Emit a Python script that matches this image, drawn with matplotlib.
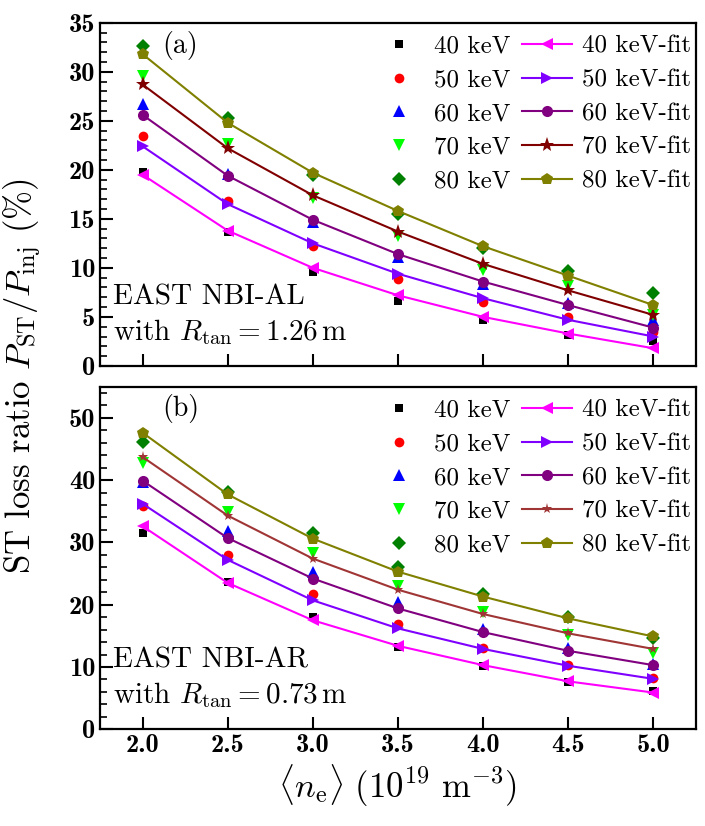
import matplotlib
matplotlib.use("Agg")
import matplotlib.pyplot as plt
from matplotlib.ticker import MultipleLocator

plt.rcParams['font.family'] = 'serif'
plt.rcParams['font.serif'] = ['cmr10', 'DejaVu Serif']
plt.rcParams['mathtext.fontset'] = 'cm'
plt.rcParams['axes.unicode_minus'] = False

# electron density (10^19 m^-3)
ne = [2.0, 2.5, 3.0, 3.5, 4.0, 4.5, 5.0]
energies = ['40', '50', '60', '70', '80']

# (a) EAST NBI-AL, simulated ST loss ratio (%)
a40 = [19.8, 13.7, 9.6, 6.6, 4.7, 3.2, 2.5]
a50 = [23.4, 16.8, 12.2, 8.9, 6.5, 5.0, 3.5]
a60 = [26.7, 19.6, 14.7, 11.1, 8.4, 6.4, 4.7]
a70 = [29.6, 22.6, 17.1, 13.2, 9.8, 8.1, 5.2]
a80 = [32.6, 25.3, 19.5, 15.5, 12.0, 9.7, 7.4]
# (a) fits
a40f = [19.5, 13.8, 10.0, 7.2, 5.0, 3.3, 1.8]
a50f = [22.4, 16.5, 12.5, 9.4, 6.9, 4.7, 3.0]
a60f = [25.6, 19.4, 14.9, 11.4, 8.6, 6.2, 3.9]
a70f = [28.7, 22.2, 17.4, 13.7, 10.4, 7.7, 5.2]
a80f = [31.8, 24.8, 19.7, 15.8, 12.2, 9.2, 6.2]

# (b) EAST NBI-AR
b40 = [31.5, 23.7, 18.0, 13.2, 10.2, 7.6, 6.1]
b50 = [35.8, 27.9, 21.7, 16.9, 13.0, 10.3, 8.2]
b60 = [39.7, 31.8, 25.3, 20.4, 16.1, 13.0, 10.5]
b70 = [42.7, 34.8, 28.3, 23.0, 18.9, 15.2, 12.2]
b80 = [46.1, 38.1, 31.5, 26.0, 21.7, 18.0, 14.6]
# (b) fits
b40f = [32.6, 23.5, 17.5, 13.4, 10.3, 7.7, 5.9]
b50f = [36.2, 27.2, 20.7, 16.2, 12.9, 10.2, 8.1]
b60f = [39.9, 30.7, 24.2, 19.4, 15.6, 12.6, 10.3]
b70f = [43.7, 34.3, 27.4, 22.4, 18.5, 15.4, 12.9]
b80f = [47.6, 37.7, 30.6, 25.3, 21.3, 17.8, 14.9]

data_style = [('s', 'black', 6), ('o', 'red', 7), ('^', 'blue', 8),
              ('v', '#00ff00', 8), ('D', 'green', 7)]
fit_style = [('<', '#ff00ff', 9), ('>', '#8000ff', 9), ('o', 'purple', 8),
             ('*', '#800000', 10), ('p', 'olive', 9)]


def draw_panel(ax, sims, fits, star_color, star_size, tag, name, rtan, ymax, ymaj, ymin):
    for i, y in enumerate(sims):
        m, c, s = data_style[i]
        ax.plot(ne, y, linestyle='none', marker=m, color=c, ms=s, mew=0,
                label=energies[i] + r' keV')
    for i, y in enumerate(fits):
        m, c, s = fit_style[i]
        if m == '*':
            c, s = star_color, star_size
        ax.plot(ne, y, '-', marker=m, color=c, ms=s, lw=1.5, mew=0,
                label=energies[i] + ' keV-fit')

    ax.set_xlim(1.75, 5.25)
    ax.set_ylim(0, ymax)
    ax.xaxis.set_major_locator(MultipleLocator(0.5))
    ax.yaxis.set_major_locator(MultipleLocator(ymaj))
    ax.yaxis.set_minor_locator(MultipleLocator(ymin))
    ax.tick_params(direction='in', top=False, right=False, width=1.5,
                   labelsize=19, labelfontfamily='cmb10')
    ax.tick_params(which='major', length=9)
    ax.tick_params(which='minor', direction='in', length=5, width=1.2)
    for sp in ax.spines.values():
        sp.set_linewidth(1.6)

    ax.legend(ncol=2, loc='upper right', bbox_to_anchor=(1.013, 1.0),
              frameon=False, fontsize=18,
              handlelength=2.0, handletextpad=0.4, columnspacing=0.45,
              labelspacing=0.45, borderaxespad=0.3, borderpad=0.2)
    ax.text(0.135, 0.935, tag, transform=ax.transAxes, fontsize=20,
            ha='center', va='center')
    ax.text(0.022, 0.20, name, transform=ax.transAxes, fontsize=21,
            ha='left', va='center')
    ax.text(0.022, 0.10, r'with $R_\mathrm{tan}=' + rtan + r'\,\mathrm{m}$',
            transform=ax.transAxes, fontsize=21, ha='left', va='center')


fig = plt.figure(figsize=(7.05, 8.26), dpi=100)
ax1 = fig.add_axes([0.1418, 0.557, 0.8454, 0.4155])
ax2 = fig.add_axes([0.1418, 0.117, 0.8454, 0.415])

draw_panel(ax1, [a40, a50, a60, a70, a80], [a40f, a50f, a60f, a70f, a80f],
           '#800000', 11, '(a)', 'EAST NBI-AL', '1.26', 35, 5, 1)
draw_panel(ax2, [b40, b50, b60, b70, b80], [b40f, b50f, b60f, b70f, b80f],
           '#a03535', 8, '(b)', 'EAST NBI-AR', '0.73', 55, 10, 2)

ax1.tick_params(labelbottom=False)
ax2.set_xlabel(r'$\langle n_\mathrm{e}\rangle\ (10^{19}\ \mathrm{m}^{-3})$', fontsize=25)
fig.text(0.033, 0.545, r'ST loss ratio $P_\mathrm{ST}/P_\mathrm{inj}$ (%)',
         rotation=90, fontsize=25, ha='center', va='center')

fig.savefig('out.png', dpi=100)
